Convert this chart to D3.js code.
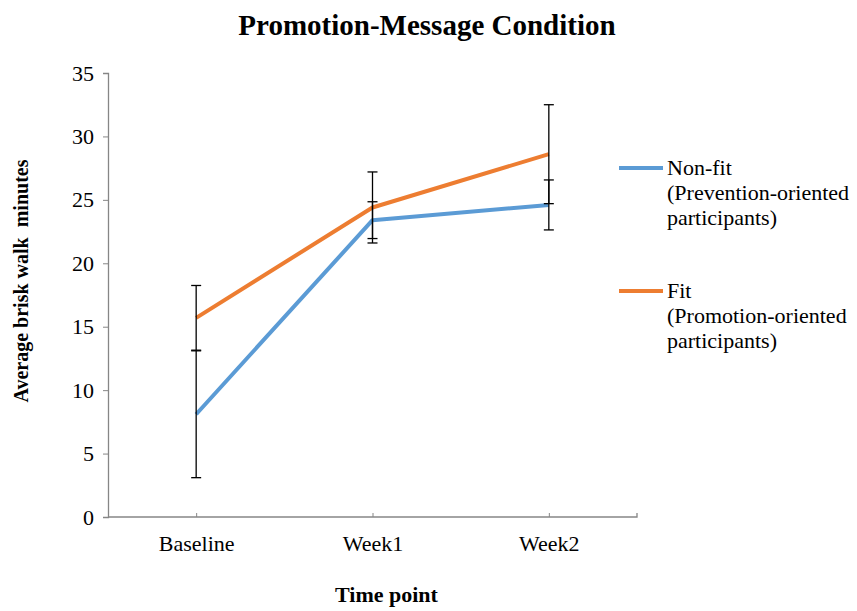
<!DOCTYPE html>
<html>
<head>
<meta charset="utf-8">
<script src="https://cdn.jsdelivr.net/npm/d3@7"></script>
<style>
  body { margin: 0; background: #fff; }
</style>
</head>
<body>
<script>
// data
var timepoints = ["Baseline", "Week1", "Week2"];
var nonFitMeans = [8.1, 23.4, 24.6];
var nonFitErrors = [5.0, 1.45, 1.97];
var fitMeans = [15.7, 24.4, 28.6];
var fitErrors = [2.55, 2.8, 3.9];
var yTicks = [0, 5, 10, 15, 20, 25, 30, 35];
var legendLabels = [
  ["Non-fit", "(Prevention-oriented", "participants)"],
  ["Fit", "(Promotion-oriented", "participants)"]
];

var W = 857, H = 611;
var margin = {top: 73, right: 220, bottom: 94, left: 108};
var width = W - margin.left - margin.right,
    height = H - margin.top - margin.bottom;
var serif = "'Liberation Serif', Tinos, FreeSerif, 'Nimbus Roman'";

var series = [
  {name: "nonfit", means: nonFitMeans, errs: nonFitErrors, color: "#5b9bd5"},
  {name: "fit", means: fitMeans, errs: fitErrors, color: "#ed7d31"}
];

var x = d3.scalePoint().domain(timepoints).range([0, width]).padding(0.5);
var y = d3.scaleLinear().domain([0, 35]).range([height, 0]);

var svg = d3.select("body").append("svg")
    .attr("width", W)
    .attr("height", H);

svg.append("text")
    .attr("x", 427).attr("y", 35)
    .attr("text-anchor", "middle")
    .attr("font-family", serif).attr("font-size", 29).attr("font-weight", "bold")
    .text("Promotion-Message Condition");

var g = svg.append("g")
    .attr("transform", "translate(" + margin.left + "," + margin.top + ")");

// y axis
var yAxis = g.append("g")
    .call(d3.axisLeft(y).tickValues(yTicks).tickSize(5).tickPadding(9));
yAxis.attr("font-family", null).attr("font-size", null);
yAxis.select(".domain").attr("stroke", "#868686").attr("stroke-width", 1.3);
yAxis.selectAll(".tick line").attr("stroke", "#868686");
yAxis.selectAll(".tick text")
    .attr("font-family", serif).attr("font-size", 22).attr("fill", "#000");

// x axis with ticks pointing inward
var xAxis = g.append("g")
    .attr("transform", "translate(0," + height + ")")
    .call(d3.axisBottom(x).tickSize(0).tickPadding(18));
xAxis.attr("font-family", null).attr("font-size", null);
xAxis.select(".domain").attr("d", "M0,0H" + width + "V-4").attr("stroke", "#868686").attr("stroke-width", 1.3);
xAxis.selectAll(".tick").append("line")
    .attr("y2", -4).attr("stroke", "#868686");
xAxis.selectAll(".tick text")
    .attr("font-family", serif).attr("font-size", 22).attr("fill", "#000");

// axis titles
g.append("text")
    .attr("transform", "translate(" + (-80) + "," + (height / 2 - 14) + ") rotate(-90)")
    .attr("text-anchor", "middle")
    .attr("font-family", serif).attr("font-size", 20).attr("font-weight", "bold")
    .attr("xml:space", "preserve")
    .text("Average brisk walk  minutes");

g.append("text")
    .attr("x", width / 2 + 14).attr("y", height + 85)
    .attr("text-anchor", "middle")
    .attr("font-family", serif).attr("font-size", 22).attr("font-weight", "bold")
    .text("Time point");

// lines
var line = d3.line()
    .x(function(d, i) { return x(timepoints[i]); })
    .y(function(d) { return y(d); });

series.forEach(function(s) {
  g.append("path")
      .datum(s.means)
      .attr("fill", "none")
      .attr("stroke", s.color)
      .attr("stroke-width", 4)
      .attr("stroke-linejoin", "round")
      .attr("d", line);
});

// error bars
series.forEach(function(s) {
  var eb = g.append("g").attr("class", "err-" + s.name);
  s.means.forEach(function(m, i) {
    var cx = x(timepoints[i]);
    var lo = y(m - s.errs[i]), hi = y(m + s.errs[i]);
    eb.append("line").attr("x1", cx).attr("x2", cx).attr("y1", lo).attr("y2", hi)
        .attr("stroke", "#000").attr("stroke-width", 1.3);
    [lo, hi].forEach(function(v) {
      eb.append("line").attr("x1", cx - 5).attr("x2", cx + 5).attr("y1", v).attr("y2", v)
          .attr("stroke", "#000").attr("stroke-width", 1.3);
    });
  });
});

// legend
var legend = svg.append("g").attr("transform", "translate(619,168)");
series.forEach(function(s, i) {
  var lg = legend.append("g").attr("transform", "translate(0," + (i * 123) + ")");
  lg.append("line").attr("x1", 0).attr("x2", 44).attr("y1", 0).attr("y2", 0)
      .attr("stroke", s.color).attr("stroke-width", 4);
  legendLabels[i].forEach(function(t, j) {
    lg.append("text")
        .attr("x", 48).attr("y", j * 25 + 7)
        .attr("font-family", serif).attr("font-size", 22)
        .text(t);
  });
});
</script>
</body>
</html>
